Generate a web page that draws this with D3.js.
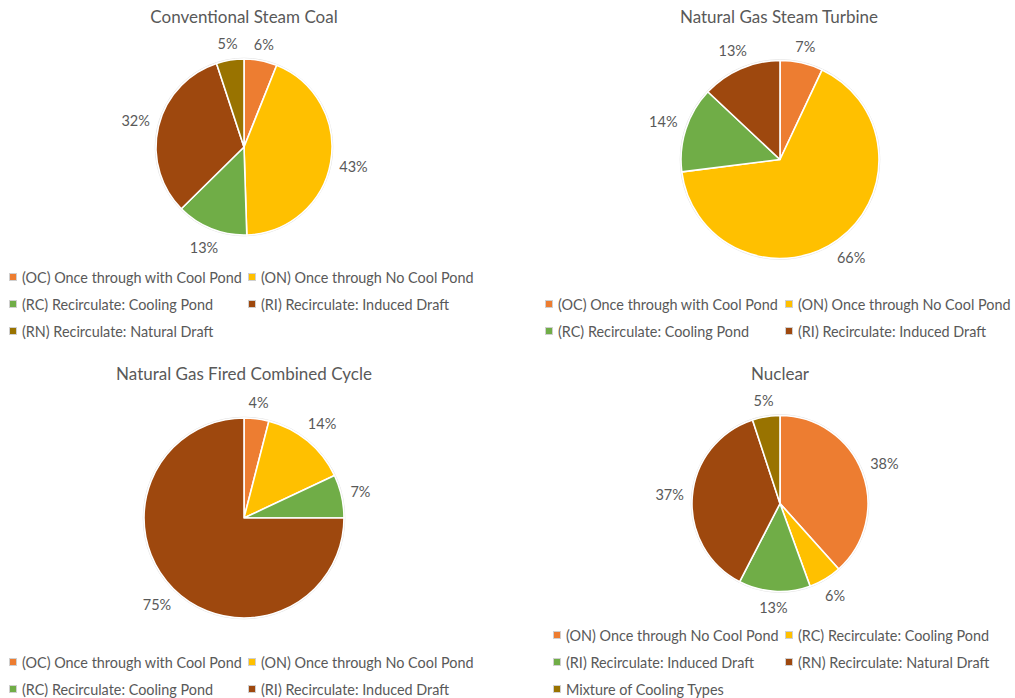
<!DOCTYPE html>
<html>
<head>
<meta charset="utf-8">
<script src="https://cdn.jsdelivr.net/npm/d3@7"></script>
<style>
  html, body { margin: 0; padding: 0; background: #fff; }
  svg { display: block; font-family: Lato, "Open Sans", sans-serif; }
</style>
</head>
<body>
<svg id="chart" width="1015" height="698"></svg>
<script>
// Cooling system shares by generation technology (percent of units)
const titles = [
  "Conventional Steam Coal",
  "Natural Gas Steam Turbine",
  "Natural Gas Fired Combined Cycle",
  "Nuclear"
];

const coalCategories = [
  "(OC) Once through with Cool Pond",
  "(ON) Once through No Cool Pond",
  "(RC) Recirculate: Cooling Pond",
  "(RI) Recirculate: Induced Draft",
  "(RN) Recirculate: Natural Draft"
];
const coalValues = [6, 43, 13, 32, 5];

const gasSteamCategories = [
  "(OC) Once through with Cool Pond",
  "(ON) Once through No Cool Pond",
  "(RC) Recirculate: Cooling Pond",
  "(RI) Recirculate: Induced Draft"
];
const gasSteamValues = [7, 66, 14, 13];

const combinedCycleCategories = [
  "(OC) Once through with Cool Pond",
  "(ON) Once through No Cool Pond",
  "(RC) Recirculate: Cooling Pond",
  "(RI) Recirculate: Induced Draft"
];
const combinedCycleValues = [4, 14, 7, 75];

const nuclearCategories = [
  "(ON) Once through No Cool Pond",
  "(RC) Recirculate: Cooling Pond",
  "(RI) Recirculate: Induced Draft",
  "(RN) Recirculate: Natural Draft",
  "Mixture of Cooling Types"
];
const nuclearValues = [38, 6, 13, 37, 5];

// Office palette, assigned by slice order
const palette = ["#ED7D31", "#FFC000", "#70AD47", "#9E480E", "#997300"];

// Panel layout
const panels = [
  { title: titles[0], cats: coalCategories, vals: coalValues,
    tx: 244, ty: 23, cx: 244, cy: 147, r: 88, lx: 9, colW: 239, ly: 277 },
  { title: titles[1], cats: gasSteamCategories, vals: gasSteamValues,
    tx: 779, ty: 23, cx: 780, cy: 159.5, r: 99, lx: 545, colW: 240, ly: 304 },
  { title: titles[2], cats: combinedCycleCategories, vals: combinedCycleValues,
    tx: 244, ty: 380, cx: 244, cy: 518, r: 100, lx: 9, colW: 239, ly: 662 },
  { title: titles[3], cats: nuclearCategories, vals: nuclearValues,
    tx: 780, ty: 380, cx: 780, cy: 503.5, r: 88, lx: 553, colW: 232, ly: 635 }
];

const svg = d3.select("#chart");
const textColor = "#595959";
const rowH = 27;

panels.forEach(p => {
  const g = svg.append("g");

  g.append("text")
    .attr("x", p.tx).attr("y", p.ty)
    .attr("text-anchor", "middle")
    .attr("fill", textColor)
    .style("font-size", "17px")
    .text(p.title);

  const color = d3.scaleOrdinal().domain(p.cats).range(palette);
  const pie = d3.pie().sort(null).value(d => d.v);
  const arcs = pie(p.cats.map((c, i) => ({ c, v: p.vals[i] })));
  const arc = d3.arc().innerRadius(0).outerRadius(p.r);

  const pg = g.append("g").attr("transform", `translate(${p.cx},${p.cy})`);

  // faint outline around the pie
  pg.append("circle").attr("r", p.r + 0.8)
    .attr("fill", "none").attr("stroke", "#d9d9d9").attr("stroke-width", 0.8);

  pg.selectAll("path.slice").data(arcs).join("path")
    .attr("class", "slice")
    .attr("d", arc)
    .attr("fill", d => color(d.data.c))
    .attr("stroke", "#fff")
    .attr("stroke-width", 1.6)
    .attr("stroke-linejoin", "round");

  // value labels just outside the rim
  const labels = pg.selectAll("text.val").data(arcs).join("text")
    .attr("class", "val")
    .attr("text-anchor", "middle")
    .attr("dominant-baseline", "central")
    .attr("fill", textColor)
    .style("font-size", "14.5px")
    .text(d => d.data.v + "%");

  labels.each(function(d) {
    const w = this.getComputedTextLength();
    const a = (d.startAngle + d.endAngle) / 2;
    const s = Math.sin(a), c = -Math.cos(a);
    const dist = p.r + 8 + (w / 2) * Math.abs(s) + 7 * Math.abs(c);
    d3.select(this).attr("x", dist * s).attr("y", dist * c);
  });

  // legend: two columns, rows of 27px
  const lg = g.append("g");
  const items = lg.selectAll("g.item").data(p.cats).join("g")
    .attr("class", "item")
    .attr("transform", (d, i) =>
      `translate(${p.lx + (i % 2) * p.colW},${p.ly + Math.floor(i / 2) * rowH})`);

  items.append("rect")
    .attr("x", 0.5).attr("y", -3.5)
    .attr("width", 7).attr("height", 7)
    .attr("fill", d => color(d))
    .attr("stroke", "#d0d0d0").attr("stroke-width", 1);

  items.append("text")
    .attr("x", 13).attr("y", 0)
    .attr("dominant-baseline", "central")
    .attr("fill", textColor)
    .style("font-size", "14.4px")
    .text(d => d);
});
</script>
</body>
</html>
